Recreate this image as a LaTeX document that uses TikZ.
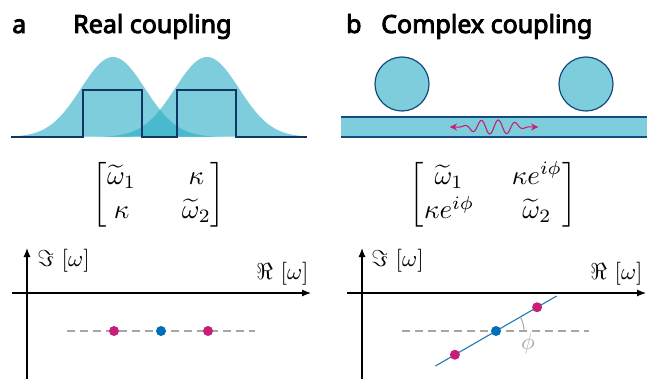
\documentclass[tikz,border=0pt]{standalone}
\usepackage{amsmath}
\usepackage{fontspec}
\newfontfamily\titlefont{Noto Sans}[AutoFakeBold=3.5]
\usetikzlibrary{arrows.meta,calc}
\definecolor{gauss}{RGB}{38,172,197}
\definecolor{ringfill}{RGB}{125,205,220}
\definecolor{edge}{RGB}{20,75,125}
\definecolor{navy}{RGB}{15,55,100}
\definecolor{mag}{RGB}{200,30,120}
\definecolor{dotblue}{RGB}{0,110,180}
\definecolor{lineblue}{RGB}{30,120,185}

\begin{document}
\begin{tikzpicture}[x=1pt,y=-1pt,
    ttl/.style={font=\titlefont\bfseries\fontsize{25}{30}\selectfont,anchor=base west,inner sep=0pt},
    mtx/.style={scale=2.7,transform shape,inner sep=0pt},
    ax/.style={scale=2.3,transform shape,inner sep=0pt},
    axis/.style={-{Latex[length=9pt,width=7pt]},line width=1.2pt},
    pole/.style={circle,fill=mag,minimum size=10pt,inner sep=0pt},
    mid/.style={circle,fill=dotblue,minimum size=10pt,inner sep=0pt},
    guide/.style={gray!70,line width=1.2pt,dash pattern=on 8pt off 5pt},
    ring/.style={circle,draw=edge,fill=ringfill,line width=1.2pt,minimum size=54pt,inner sep=0pt}]
    \useasboundingbox (0,0) rectangle (647,379);

    % titles
    \node[ttl] (la) at (12,33) {a};
    \node[ttl] (ta) at (73,33) {Real coupling};
    \node[ttl] (lb) at (346,33) {b};
    \node[ttl] (tb) at (381,33) {Complex coupling};

    % a: two overlapping modes
    \fill[gauss,opacity=.6] plot[domain=11:307,samples=120]
      (\x,{137-80*exp(-(((\x-113)/32)^2)/2)}) -- cycle;
    \fill[gauss,opacity=.6] plot[domain=11:307,samples=120]
      (\x,{137-80*exp(-(((\x-207)/32)^2)/2)}) -- cycle;
    \draw[navy,line width=1.3pt] (11,137) -- (83,137) -- (83,90) -- (142,90) -- (142,137)
      -- (177,137) -- (177,90) -- (236,90) -- (236,137) -- (307,137);

    % b: rings on a waveguide
    \fill[ringfill] (341,117) rectangle (647,137);
    \draw[edge,line width=1.2pt] (341,117) -- (647,117) (341,137) -- (647,137);
    \node[ring] (r1) at (402,84) {};
    \node[ring] (r2) at (586,84) {};
    \draw[mag,line width=1.1pt,{Stealth[length=7pt,width=7pt]}-{Stealth[length=7pt,width=7pt]}]
      plot[domain=450:538,samples=150]
      (\x,{127-7*exp(-(((\x-494)/26)^4))*sin(360*(\x-494)/17)});

    % matrices
    \node[mtx] (ma) at (159,195)
      {$\renewcommand\arraystretch{1.05}\setlength\arraycolsep{8.5pt}\begin{bmatrix}\widetilde{\omega}_1 & \kappa\\ \kappa & \widetilde{\omega}_2\end{bmatrix}$};
    \node[mtx] (mb) at (493,195)
      {$\renewcommand\arraystretch{1.05}\setlength\arraycolsep{7pt}\begin{bmatrix}\widetilde{\omega}_1 & \kappa e^{i\phi}\\ \kappa e^{i\phi} & \widetilde{\omega}_2\end{bmatrix}$};

    % a: complex plane
    \coordinate (a0) at (27,379);  \coordinate (a1) at (27,248);
    \coordinate (a2) at (12,293);  \coordinate (a3) at (311,293);
    \draw[axis] (a0) -- (a1);
    \draw[axis] (a2) -- (a3);
    \node[ax,anchor=west] (ima) at (37,261) {$\Im\,\left[\omega\right]$};
    \node[ax,anchor=east] (rea) at (309,274) {$\Re\,\left[\omega\right]$};
    \coordinate (ga) at (67,331); \coordinate (gb) at (255,331);
    \draw[guide] (ga) -- (gb);
    \node[pole] (p1) at (114,331) {};
    \node[mid]  (c1) at (161,331) {};
    \node[pole] (p2) at (208,331) {};

    % b: complex plane
    \coordinate (b0) at (362,379); \coordinate (b1) at (362,248);
    \coordinate (b2) at (347,293); \coordinate (b3) at (646,293);
    \draw[axis] (b0) -- (b1);
    \draw[axis] (b2) -- (b3);
    \node[ax,anchor=west] (imb) at (371,261) {$\Im\,\left[\omega\right]$};
    \node[ax,anchor=east] (reb) at (643,274) {$\Re\,\left[\omega\right]$};
    \coordinate (gc) at (402,331); \coordinate (gd) at (589,331);
    \draw[guide] (gc) -- (gd);
    \coordinate (c2) at (496,331);
    \coordinate (lo) at ($(c2)+(-60.6,35)$);
    \coordinate (hi) at ($(c2)+(60.6,-35)$);
    \draw[lineblue,line width=1.1pt] (lo) -- (hi);
    \draw[gray!70,line width=1pt] (524,331) arc[start angle=0,end angle=-30,radius=28];
    \node[gray!70,ax] (phi) at (528,344) {$\phi$};
    \node[pole] (q1) at ($(c2)+(-41.1,23.75)$) {};
    \node[mid]  (q0) at (c2) {};
    \node[pole] (q2) at ($(c2)+(41.1,-23.75)$) {};
\end{tikzpicture}
\end{document}
